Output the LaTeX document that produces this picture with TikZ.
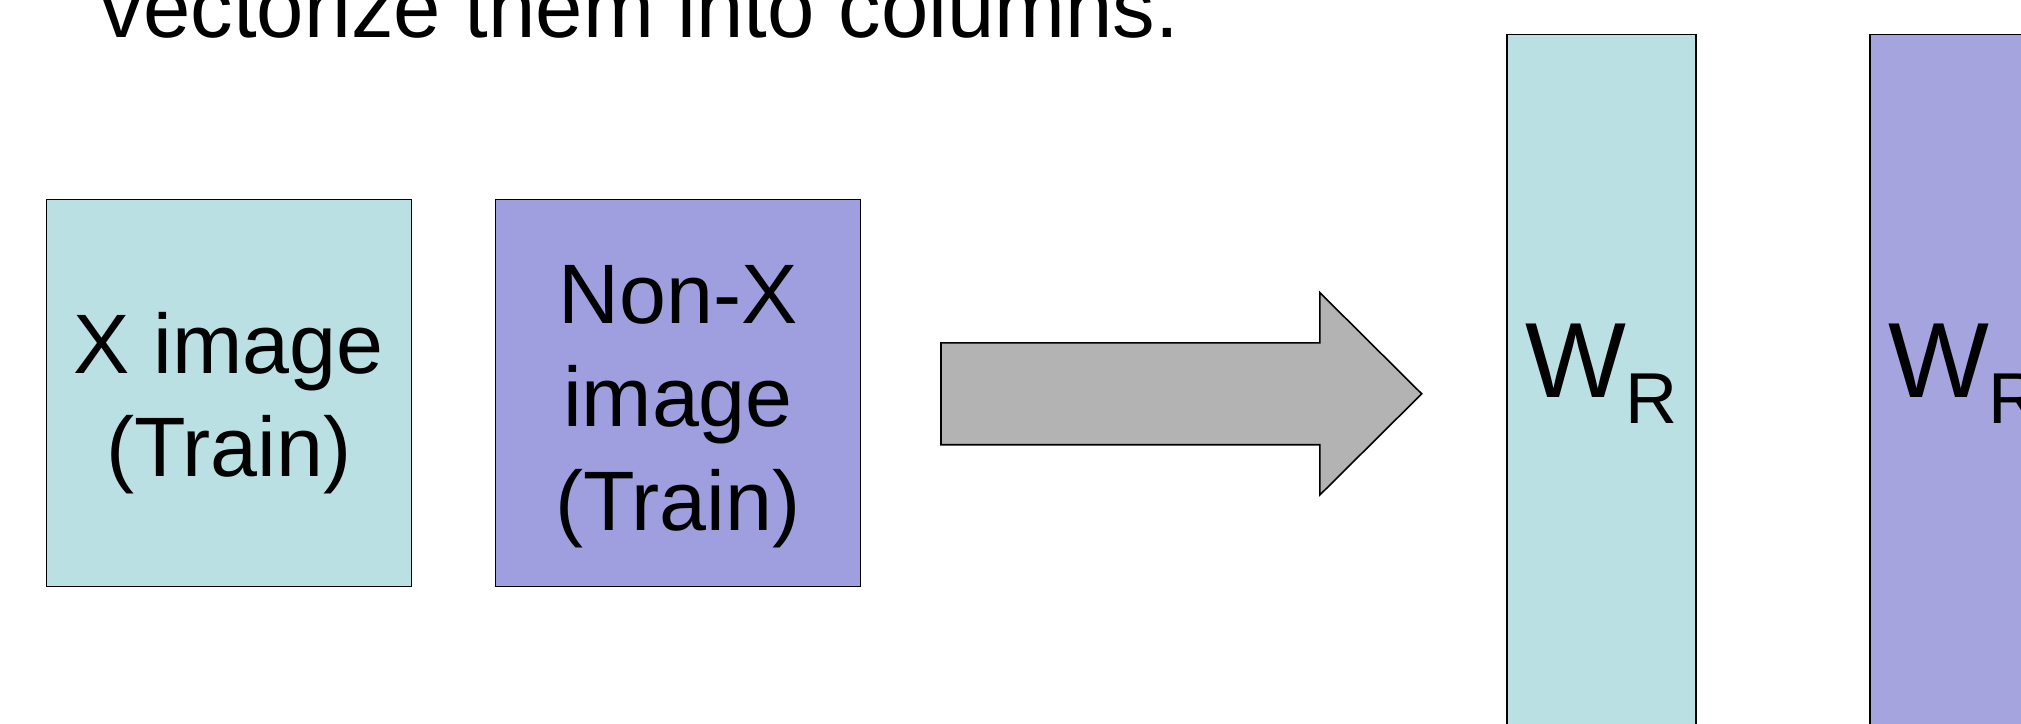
\documentclass[tikz,border=0pt]{standalone}
\usepackage{fontspec}
\setmainfont{Liberation Sans}
\definecolor{tealfill}{HTML}{BBE0E3}
\definecolor{violetfill}{HTML}{9F9EDE}
\definecolor{violetcol}{HTML}{A5A4DE}
\definecolor{arrowgray}{HTML}{B3B3B3}
\tikzset{
  imgbox/.style={draw=black, line width=0.45pt, minimum width=3.648cm, minimum height=3.867cm, inner sep=0pt},
  colbox/.style={draw=black, line width=0.45pt, minimum width=1.89cm, minimum height=8cm, inner sep=0pt, anchor=north},
  boxtext/.style={align=center, inner sep=0pt, font=\fontsize{24}{29.4}\selectfont},
  coltext/.style={inner sep=0pt, anchor=base, font=\fontsize{30.4}{36}\selectfont},
  titletext/.style={inner sep=0pt, anchor=base west, font=\fontsize{24.2}{29}\selectfont},
}
\newcommand{\subR}{\raisebox{-7.4pt}{\fontsize{20.5}{24}\selectfont R}}
\begin{document}
\begin{tikzpicture}[x=0.01cm, y=-0.01cm]
  \useasboundingbox (0,0) rectangle (2021,723);
  \clip (0,0) rectangle (2021,723);
  \fill[white] (0,0) rectangle (2021,723);

  % heading line, partly above the frame
  \node[titletext] (title) at (100,37) {vectorize them into columns.};

  % training images
  \node[imgbox, fill=tealfill] (xbox) at (228.8,393.15) {};
  \node[boxtext] (xtext) at (228.8,403.3) {X image\\(Train)};
  \node[imgbox, fill=violetfill] (nbox) at (677.95,393.15) {};
  \node[boxtext] (ntext) at (677.95,406.5) {Non-X\\image\\(Train)};

  % block arrow
  \coordinate (a1) at (941,342.9);
  \coordinate (a2) at (1319.8,342.9);
  \coordinate (a3) at (1319.8,292.6);
  \coordinate (tip) at (1421.7,393.8);
  \coordinate (a5) at (1319.8,495);
  \coordinate (a6) at (1319.8,444.7);
  \coordinate (a7) at (941,444.7);
  \draw[fill=arrowgray, line width=0.45pt, line join=miter]
    (a1) -- (a2) -- (a3) -- (tip) -- (a5) -- (a6) -- (a7) -- cycle;

  % vectorized columns
  \node[colbox, fill=tealfill] (col1) at (1601.5,33.5) {};
  \node[coltext] (w1) at (1601.5,397) {W\subR};
  \node[colbox, fill=violetcol] (col2) at (1964.5,33.5) {};
  \node[coltext] (w2) at (1964.5,397) {W\subR};
\end{tikzpicture}
\end{document}
